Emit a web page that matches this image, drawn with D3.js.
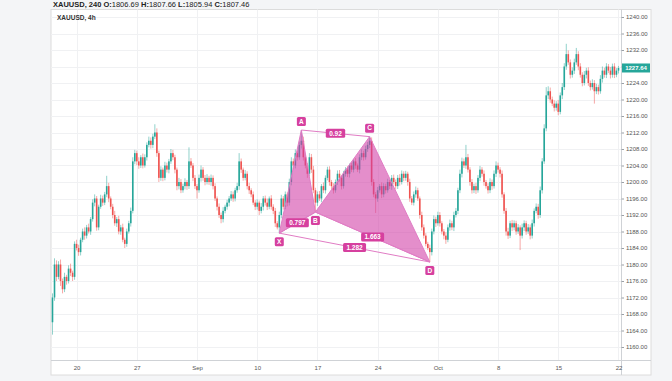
<!DOCTYPE html>
<html lang="en">
<head>
<meta charset="utf-8">
<title>XAUUSD 4h</title>
<script src="https://d3js.org/d3.v7.min.js"></script>
<style>
  body { margin: 0; background: #f4f5f7; }
  svg { display: block; font-family: "Liberation Sans", Arial, sans-serif; }
</style>
</head>
<body>
<script>
// 4h closes, Aug 16 -> Oct 22
var closes = [
  1172,1180,1177,1180,1176,1174,1177,1176,1179,1178,
  1177,1185,1184,1183,1186,1188,1187,1189,1188,1191,
  1195,1196,1189,1194,1196,1195,1197,1199,1196,1194,
  1192,1190,1191,1188,1189,1186,1185,1188,1190,1193,
  1205,1207,1205,1204,1206,1204,1206,1209,1210,1209,
  1211,1212,1207,1201,1203,1201,1204,1203,1205,1207,
  1206,1203,1199,1200,1198,1199,1200,1199,1205,1204,
  1201,1199,1198,1201,1203,1201,1200,1201,1200,1201,
  1199,1196,1194,1192,1191,1193,1194,1195,1196,1197,
  1196,1198,1199,1205,1203,1201,1202,1199,1198,1197,
  1195,1194,1195,1193,1194,1196,1195,1194,1196,1194,
  1193,1190,1189,1192,1196,1194,1197,1195,1200,1205,
  1204,1207,1206,1209,1210,1206,1204,1202,1206,1203,
  1198,1195,1197,1196,1199,1198,1201,1203,1200,1199,
  1198,1200,1202,1201,1199,1202,1203,1202,1204,1203,
  1205,1204,1203,1206,1207,1206,1208,1209,1210,1200,
  1197,1196,1198,1199,1197,1199,1198,1200,1199,1201,
  1200,1199,1201,1200,1202,1201,1202,1200,1196,1195,
  1197,1198,1196,1192,1189,1187,1185,1184,1183,1188,
  1191,1190,1192,1190,1188,1187,1186,1189,1190,1189,
  1192,1193,1198,1202,1205,1204,1206,1203,1200,1198,
  1199,1198,1201,1203,1202,1200,1199,1198,1200,1199,
  1202,1204,1203,1202,1197,1193,1188,1187,1190,1189,
  1190,1188,1189,1187,1189,1190,1188,1189,1187,1190,
  1193,1194,1192,1198,1205,1213,1221,1222,1220,1219,
  1218,1219,1217,1221,1223,1228,1231,1229,1226,1227,
  1229,1231,1228,1226,1224,1226,1227,1224,1223,1224,
  1222,1223,1222,1225,1227,1226,1228,1227,1226,1228,
  1226,1227,1227.64
];
var firstOpen = 1166;

// wick lengths above / below the body
var wickUp = [
  1,1.5,1,0.8,1.2,0.6,1,0.5,0.8,1.2,
  0.5,0.6,1,0.8,0.5,0.7,1,0.6,0.9,0.5,
  0.8,1,0.6,0.5,0.9,0.7,0.6,2.5,0.8,0.5,
  0.7,1,0.5,0.8,0.6,0.9,0.5,0.7,0.6,0.8,
  1,0.8,0.6,1,0.5,0.9,0.7,0.6,1,0.8,
  0.7,2,1,0.6,0.8,0.5,0.9,0.7,0.6,1,
  0.8,0.6,0.5,1,0.7,0.6,0.9,0.5,3.4,0.8,
  0.6,0.7,0.5,0.8,1,0.6,0.7,0.9,0.5,0.8,
  0.6,0.7,0.5,0.8,0.6,0.9,0.5,0.7,0.6,0.8,
  0.7,0.6,0.8,2,0.7,0.5,0.9,0.6,0.8,0.5,
  0.7,0.6,0.8,0.5,0.9,0.6,0.7,1,0.5,0.8,
  0.6,0.7,0.5,0.8,0.9,0.6,0.7,0.5,0.8,1,
  0.7,0.9,0.6,0.8,2.6,1,0.7,0.6,1,0.8,
  0.9,0.6,0.7,0.8,0.5,0.9,0.6,0.7,0.8,0.5,
  0.7,0.6,0.8,0.9,0.5,0.7,0.6,0.8,0.5,0.7,
  0.6,0.8,0.5,0.7,0.9,0.6,0.8,0.7,1,0.8,
  0.7,0.6,0.8,0.5,0.9,0.7,0.6,0.8,0.5,0.7,
  0.8,0.6,0.7,0.9,0.8,0.6,0.7,0.5,0.8,0.6,
  0.7,0.9,0.6,0.5,0.8,0.7,0.6,0.5,0.8,0.7,
  0.9,0.6,0.8,0.7,0.5,0.6,0.8,0.7,0.9,0.6,
  0.8,0.7,0.6,1,0.9,0.7,3,0.8,0.6,0.7,
  0.6,0.8,0.7,0.9,0.6,0.8,0.5,0.7,0.9,0.6,
  0.8,1,0.7,0.6,0.8,0.5,0.7,0.9,0.6,0.8,
  0.7,0.6,0.8,0.5,0.9,0.7,0.6,0.8,0.7,0.9,
  0.6,0.8,0.7,0.9,0.8,1,2,1.2,0.9,0.7,
  0.8,0.6,0.9,0.7,1,0.8,2.5,0.9,0.7,0.8,
  0.9,1.5,0.7,0.8,0.6,0.9,0.7,0.8,0.6,0.9,
  0.7,0.8,0.6,0.9,1,0.7,0.8,0.6,0.9,0.7,
  0.8,0.6,0.5
];
var wickDn = [
  3,0.8,1,0.6,1.2,1,0.7,0.9,0.6,0.8,
  1,0.7,0.6,0.9,0.8,0.6,1,0.7,0.5,0.8,
  0.6,0.9,0.8,0.7,0.5,0.8,0.6,0.7,0.9,0.6,
  0.8,0.6,0.9,0.7,0.8,0.6,1,0.7,0.5,0.8,
  0.6,0.7,0.9,0.8,0.6,0.7,0.5,0.8,0.6,0.9,
  0.8,0.6,0.9,1,0.7,0.8,0.6,0.7,0.9,0.6,
  0.7,0.9,1,0.8,0.7,0.6,0.8,0.9,0.7,0.6,
  0.8,0.7,2,0.6,0.9,0.7,0.8,0.6,0.7,0.9,
  0.8,0.6,0.9,0.7,1,0.8,0.6,0.7,0.9,0.6,
  0.8,0.7,0.6,0.9,0.8,0.7,0.6,0.8,0.9,0.7,
  0.6,0.8,0.7,1,0.6,0.9,0.7,0.8,0.6,0.7,
  0.8,0.9,0.5,1.4,0.8,0.7,0.6,0.9,0.7,0.8,
  0.9,0.7,0.8,0.6,0.9,0.8,0.7,1,0.6,0.8,
  0.7,2.3,0.8,0.6,0.9,0.7,0.8,0.6,0.9,0.7,
  0.8,0.6,0.7,0.9,0.8,0.6,0.7,0.8,0.9,0.6,
  0.7,0.8,0.6,0.9,0.7,0.8,0.6,0.7,0.8,0.9,
  0.7,3.5,0.8,0.6,0.9,0.7,0.8,0.6,0.7,0.9,
  0.6,0.8,0.7,0.9,0.6,0.8,0.7,0.9,0.8,0.6,
  0.7,0.8,0.6,0.9,0.8,0.7,0.6,0.5,2.4,0.8,
  0.7,0.9,0.6,0.8,0.7,0.9,1,0.6,0.8,0.7,
  0.9,0.6,0.8,0.7,0.9,0.6,0.8,0.7,0.9,0.8,
  0.7,0.9,0.6,0.8,0.7,0.9,0.6,0.8,0.7,0.9,
  0.6,0.8,0.7,0.9,0.8,0.7,1,0.8,0.6,0.9,
  0.7,0.8,0.6,3.5,0.7,0.9,0.8,0.6,0.9,0.7,
  0.8,0.6,0.9,0.7,0.8,0.6,0.7,0.9,0.8,0.6,
  0.9,0.7,0.8,0.6,0.9,0.7,0.8,0.6,0.9,0.7,
  0.8,0.6,0.9,0.7,0.8,0.6,0.9,0.7,0.8,0.6,
  3,0.7,0.8,0.6,0.9,0.7,0.8,0.6,0.9,0.7,
  0.8,0.6,0.7
];

// x axis labels (week starts) and their bar index
var dateLabels = ["20", "27", "Sep", "10", "17", "24", "Oct", "8", "15", "22"];
var dateIdx = [12, 42, 72, 102, 132, 162, 192, 222, 252, 282];
var priceTicks = d3.range(1160, 1241, 4);

// XABCD harmonic pattern
var patNames = ["X", "A", "B", "C", "D"];
var patIdx = [113, 124, 131, 158, 188];
var patPrice = [1187.6, 1212.6, 1192.7, 1211, 1180.6];
var patRatios = ["0.797", "0.92", "1.663", "1.282"];   // XB, AC, BD, XD
var lastPrice = 1227.64;

var W = 672, H = 381;
var card = {l: 51, t: 9.5, r: 651, b: 375};
var plotR = 621, plotB = 360;

var svg = d3.select("body").append("svg").attr("width", W).attr("height", H);

var x = d3.scaleLinear().domain([0, closes.length - 1]).range([52.5, 52.5 + (closes.length - 1) * 2.007]);
var y = d3.scaleLinear().domain([1160, 1240]).range([347, 17]);

// header text above the card
var hdr = svg.append("text").attr("x", 53).attr("y", 6.5).attr("font-size", 7.5).attr("fill", "#222");
hdr.append("tspan").attr("font-weight", "bold").text("XAUUSD, 240 O:");
hdr.append("tspan").text("1806.69 ");
hdr.append("tspan").attr("font-weight", "bold").text("H:");
hdr.append("tspan").text("1807.66 ");
hdr.append("tspan").attr("font-weight", "bold").text("L:");
hdr.append("tspan").text("1805.94 ");
hdr.append("tspan").attr("font-weight", "bold").text("C:");
hdr.append("tspan").text("1807.46");

// card
svg.append("rect").attr("x", card.l).attr("y", card.t)
  .attr("width", card.r - card.l).attr("height", card.b - card.t)
  .attr("fill", "#fff").attr("stroke", "#dcdcdc").attr("stroke-width", 1);

svg.append("clipPath").attr("id", "plot").append("rect")
  .attr("x", card.l).attr("y", card.t).attr("width", plotR - card.l).attr("height", plotB - card.t);

// grid
svg.append("g").selectAll("line").data(priceTicks).join("line")
  .attr("x1", card.l).attr("x2", plotR)
  .attr("y1", function(d) { return Math.round(y(d)) + 0.5; })
  .attr("y2", function(d) { return Math.round(y(d)) + 0.5; })
  .attr("stroke", "#f0f1f3");
svg.append("g").selectAll("line").data(dateIdx).join("line")
  .attr("x1", function(d) { return Math.round(x(d)) + 0.5; })
  .attr("x2", function(d) { return Math.round(x(d)) + 0.5; })
  .attr("y1", card.t).attr("y2", plotB)
  .attr("stroke", "#f0f1f3");

svg.append("text").attr("x", 57).attr("y", 20).attr("font-size", 6.5)
  .attr("font-weight", "bold").attr("fill", "#333").text("XAUUSD, 4h");

// candles
var bars = closes.map(function(c, i) {
  var o = i === 0 ? firstOpen : closes[i - 1];
  return {i: i, o: o, c: c, h: Math.max(o, c) + wickUp[i], l: Math.min(o, c) - wickDn[i]};
});
var up = "#26a69a", dn = "#ef5350";
var cg = svg.append("g").attr("clip-path", "url(#plot)");
cg.selectAll("line.wick").data(bars).join("line")
  .attr("class", "wick")
  .attr("x1", function(d) { return x(d.i); }).attr("x2", function(d) { return x(d.i); })
  .attr("y1", function(d) { return y(d.h); }).attr("y2", function(d) { return y(d.l); })
  .attr("stroke", function(d) { return d.c >= d.o ? up : dn; })
  .attr("stroke-opacity", 0.5).attr("stroke-width", 1);
cg.selectAll("rect.body").data(bars).join("rect")
  .attr("class", "body")
  .attr("x", function(d) { return x(d.i) - 0.8; })
  .attr("width", 1.6)
  .attr("y", function(d) { return y(Math.max(d.o, d.c)); })
  .attr("height", function(d) { return Math.max(0.8, Math.abs(y(d.o) - y(d.c))); })
  .attr("fill", function(d) { return d.c >= d.o ? up : dn; });

// pattern
var pts = patNames.map(function(n, k) { return {n: n, x: x(patIdx[k]), y: y(patPrice[k])}; });
var P = {};
pts.forEach(function(p) { P[p.n] = p; });
var pink = "#d6409f", fillPink = "rgba(208,60,165,0.58)";
var pg = svg.append("g");
[["X", "A", "B"], ["B", "C", "D"]].forEach(function(t) {
  pg.append("path")
    .attr("d", "M" + t.map(function(n) { return P[n].x + "," + P[n].y; }).join("L") + "Z")
    .attr("fill", fillPink).attr("stroke", "#e07cc4").attr("stroke-width", 1);
});
var legs = [["X", "B"], ["A", "C"], ["B", "D"], ["X", "D"]];
legs.forEach(function(l) {
  pg.append("line").attr("x1", P[l[0]].x).attr("y1", P[l[0]].y)
    .attr("x2", P[l[1]].x).attr("y2", P[l[1]].y)
    .attr("stroke", "#e07cc4").attr("stroke-width", 1);
});
legs.forEach(function(l, k) {
  var cx = (P[l[0]].x + P[l[1]].x) / 2, cy = (P[l[0]].y + P[l[1]].y) / 2;
  var w = patRatios[k].length * 3.6 + 5;
  pg.append("rect").attr("x", cx - w / 2).attr("y", cy - 4.5).attr("width", w).attr("height", 9)
    .attr("rx", 1.5).attr("fill", pink);
  pg.append("text").attr("x", cx).attr("y", cy + 2.3).attr("text-anchor", "middle")
    .attr("font-size", 6.5).attr("font-weight", "bold").attr("fill", "#fff").text(patRatios[k]);
});
pts.forEach(function(p) {
  var below = p.n === "X" || p.n === "B" || p.n === "D";
  var cy = below ? p.y + 8.5 : p.y - 8.5;
  pg.append("rect").attr("x", p.x - 4.5).attr("y", cy - 4.5).attr("width", 9).attr("height", 9)
    .attr("rx", 1.5).attr("fill", pink);
  pg.append("text").attr("x", p.x).attr("y", cy + 2.3).attr("text-anchor", "middle")
    .attr("font-size", 6.5).attr("font-weight", "bold").attr("fill", "#fff").text(p.n);
});

// axes frame
svg.append("line").attr("x1", plotR + 0.5).attr("x2", plotR + 0.5).attr("y1", card.t).attr("y2", card.b)
  .attr("stroke", "#cfd2d6");
svg.append("line").attr("x1", card.l).attr("x2", card.r).attr("y1", plotB + 0.5).attr("y2", plotB + 0.5)
  .attr("stroke", "#cfd2d6");

// price axis
var ya = svg.append("g").attr("transform", "translate(" + (plotR + 0.5) + ",0)")
  .call(d3.axisRight(y).tickValues(priceTicks).tickSize(2.5).tickPadding(2)
    .tickFormat(function(d) { return d.toFixed(2); }));
ya.select(".domain").remove();
ya.selectAll("line").attr("stroke", "#9aa0a6");
ya.selectAll("text").attr("font-size", 6).attr("fill", "#555").attr("font-family", null);

// date axis
var xa = svg.append("g").attr("transform", "translate(0," + (plotB + 0.5) + ")")
  .call(d3.axisBottom(x).tickValues(dateIdx).tickSize(0).tickPadding(5)
    .tickFormat(function(d, k) { return dateLabels[k]; }));
xa.select(".domain").remove();
xa.selectAll("text").attr("font-size", 6).attr("fill", "#555").attr("font-family", null);

// last price tag
var ly = y(lastPrice);
svg.append("rect").attr("x", plotR + 1).attr("y", ly - 4.5).attr("width", 28).attr("height", 9)
  .attr("fill", up);
svg.append("text").attr("x", plotR + 15).attr("y", ly + 2.2).attr("text-anchor", "middle")
  .attr("font-size", 6).attr("font-weight", "bold").attr("fill", "#fff").text(lastPrice.toFixed(2));
</script>
</body>
</html>
